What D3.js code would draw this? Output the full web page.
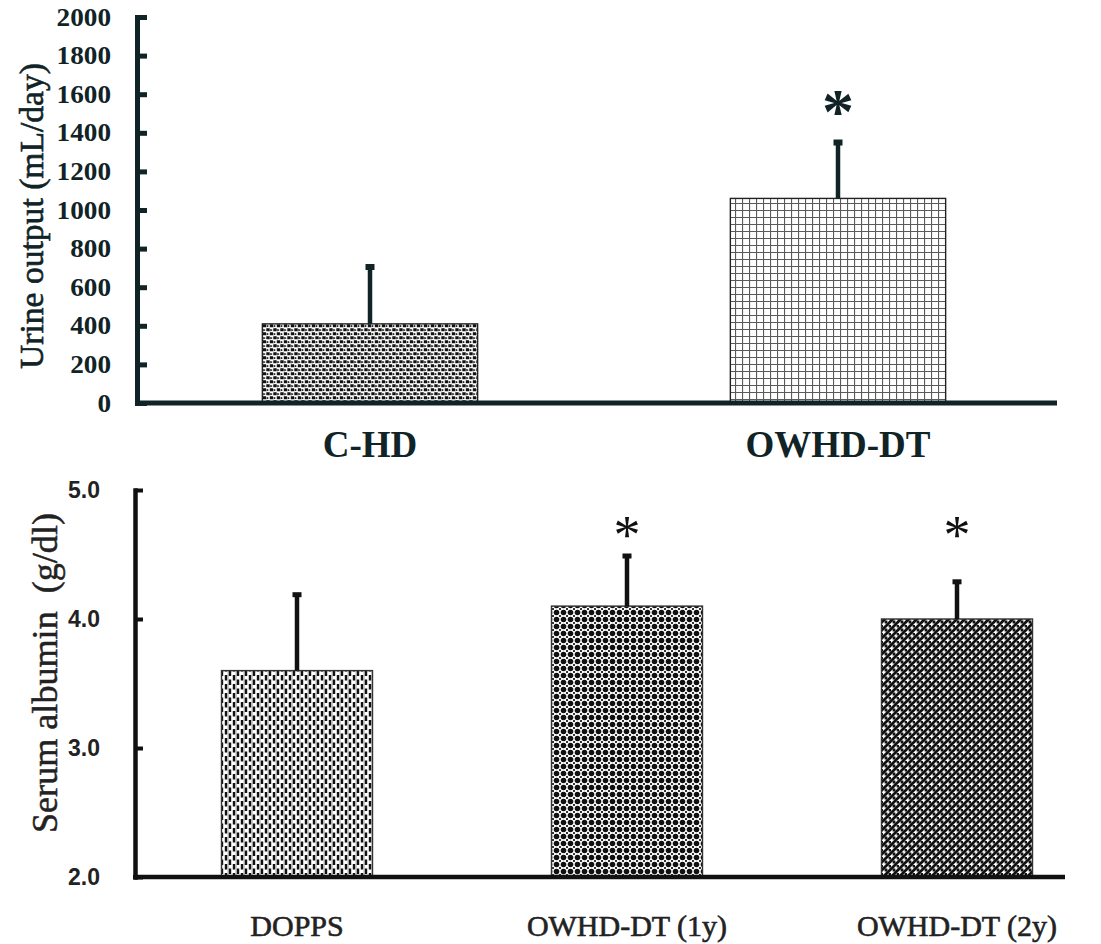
<!DOCTYPE html>
<html>
<head>
<meta charset="utf-8">
<script src="https://cdn.jsdelivr.net/npm/d3@7"></script>
<style>
  html, body { margin: 0; padding: 0; background: #fff; }
  svg { display: block; }
</style>
</head>
<body>
<svg id="chart" width="1101" height="944"></svg>
<script>
// Urine output panel
const urineCategories = ["C-HD", "OWHD-DT"];
const urineMean = [410, 1060];
const urineSD = [305, 300];
const urineSignificant = [false, true];
const urineTicks = [0, 200, 400, 600, 800, 1000, 1200, 1400, 1600, 1800, 2000];

// Serum albumin panel
const albuminCategories = ["DOPPS", "OWHD-DT (1y)", "OWHD-DT (2y)"];
const albuminMean = [3.6, 4.1, 4.0];
const albuminSD = [0.6, 0.4, 0.3];
const albuminSignificant = [false, true, true];
const albuminTicks = [2.0, 3.0, 4.0, 5.0];

const svg = d3.select("#chart");
const defs = svg.append("defs");

// ---- fill textures ----
function pattern(id, w, h, draw) {
  const p = defs.append("pattern")
    .attr("id", id).attr("patternUnits", "userSpaceOnUse")
    .attr("width", w).attr("height", h);
  p.append("rect").attr("width", w).attr("height", h).attr("fill", "#fff");
  draw(p);
}
// speckled zig-zag
pattern("texChd", 7, 8, p => {
  p.append("path").attr("d", "M0.3,0.3h3.4v3h-3.4z M3.8,4.3h3.2v3h-3.2z").attr("fill", "#111");
  p.append("path").attr("d", "M4.3,0.8l2.4,1.3l-2.4,1.3z M0.6,4.8l2.4,1.3l-2.4,1.3z").attr("fill", "#111");
});
// fine grid
pattern("texGrid", 7, 7, p => {
  p.append("path").attr("d", "M0.5,0V7 M0,0.5H7").attr("stroke", "#5a5a5a").attr("stroke-width", 1.2).attr("fill", "none");
});
// vertical dashes
pattern("texDash", 8, 9, p => {
  p.append("rect").attr("x", 3.6).attr("y", 0).attr("width", 1).attr("height", 9).attr("fill", "#aaa");
  p.append("path").attr("d", "M0.8,0h2.4v5.5h-2.4z M4.8,4.5h2.4v4.5h-2.4z M4.8,0h2.4v1h-2.4z").attr("fill", "#111");
});
// dot lattice
pattern("texDots", 7, 7, p => {
  p.append("circle").attr("cx", 3.5).attr("cy", 3.5).attr("r", 2.8).attr("fill", "#111");
  p.append("path").attr("d", "M0,0h1v1h-1z M6,0h1v1h-1z M0,6h1v1h-1z M6,6h1v1h-1z").attr("fill", "#333");
});
// diagonal weave
pattern("texWeave", 8, 8, p => {
  p.append("path").attr("d", "M-1,1L1,-1 M0,8L8,0 M7,9L9,7")
    .attr("stroke", "#111").attr("stroke-width", 2.8).attr("fill", "none");
  p.append("path").attr("d", "M4.6,4.6h2.8v2.8h-2.8z M0.6,1h2.4v2.4h-2.4z").attr("fill", "#111");
});

// ================= top panel =================
const topColor = "#102326";
const yTop = d3.scaleLinear().domain([0, 2000]).range([403, 17]);
const xTop = d3.scaleBand().domain(urineCategories).range([136, 1072])
  .paddingInner(0.54).paddingOuter(0.27);
const topFills = ["url(#texChd)", "url(#texGrid)"];

const gTop = svg.append("g");

gTop.selectAll("rect.bar").data(urineCategories).join("rect")
  .attr("class", "bar")
  .attr("x", d => xTop(d))
  .attr("width", xTop.bandwidth())
  .attr("y", (d, i) => yTop(urineMean[i]))
  .attr("height", (d, i) => yTop(0) - yTop(urineMean[i]))
  .attr("fill", (d, i) => topFills[i])
  .attr("stroke", "#222").attr("stroke-width", 1.4);

// error bars (upper SD)
gTop.selectAll("line.err").data(urineCategories).join("line")
  .attr("x1", d => xTop(d) + xTop.bandwidth() / 2)
  .attr("x2", d => xTop(d) + xTop.bandwidth() / 2)
  .attr("y1", (d, i) => yTop(urineMean[i]))
  .attr("y2", (d, i) => yTop(urineMean[i] + urineSD[i]))
  .attr("stroke", topColor).attr("stroke-width", 4.5);
gTop.selectAll("rect.cap").data(urineCategories).join("rect")
  .attr("x", d => xTop(d) + xTop.bandwidth() / 2 - 4.5)
  .attr("y", (d, i) => yTop(urineMean[i] + urineSD[i]) - 1)
  .attr("width", 9).attr("height", 6)
  .attr("fill", topColor);

gTop.selectAll("text.sig").data(urineCategories.filter((d, i) => urineSignificant[i])).join("text")
  .attr("x", d => xTop(d) + xTop.bandwidth() / 2)
  .attr("y", d => { const i = urineCategories.indexOf(d); return yTop(urineMean[i] + urineSD[i] + 200) + 31; })
  .attr("text-anchor", "middle")
  .attr("font-family", "Liberation Serif").attr("font-weight", "bold").attr("font-size", 64)
  .attr("fill", topColor).text("*");

// axes
gTop.append("line")
  .attr("x1", 135).attr("x2", 1057).attr("y1", yTop(0)).attr("y2", yTop(0))
  .attr("stroke", topColor).attr("stroke-width", 5);

const yAxisTop = gTop.append("g").attr("transform", "translate(137,0)")
  .call(d3.axisLeft(yTop).tickValues(urineTicks).tickFormat(d3.format("d"))
    .tickSizeInner(-10).tickSizeOuter(0).tickPadding(26));
yAxisTop.select(".domain").attr("stroke", topColor).attr("stroke-width", 5).attr("stroke-linecap", "square");
yAxisTop.selectAll(".tick line").attr("stroke", topColor).attr("stroke-width", 5);
yAxisTop.selectAll(".tick text")
  .style("font-family", "'Liberation Serif', serif").style("font-weight", "bold").style("font-size", "25px")
  .attr("textLength", function () { return this.textContent.length * 13.6; })
  .attr("lengthAdjust", "spacingAndGlyphs")
  .attr("fill", topColor);

gTop.append("text")
  .attr("transform", "translate(43,216) rotate(-90)")
  .attr("text-anchor", "middle")
  .style("font-family", "'Liberation Serif', serif").style("font-size", "33px")
  .attr("textLength", 306).attr("lengthAdjust", "spacingAndGlyphs")
  .attr("fill", topColor).attr("stroke", topColor).attr("stroke-width", 0.6)
  .text("Urine output (mL/day)");

gTop.selectAll("text.cat").data(urineCategories).join("text")
  .attr("class", "cat")
  .attr("x", d => xTop(d) + xTop.bandwidth() / 2)
  .attr("y", 457)
  .attr("text-anchor", "middle")
  .style("font-family", "'Liberation Serif', serif").style("font-weight", "bold").style("font-size", "37px")
  .attr("fill", topColor).text(d => d);

// ================= bottom panel =================
const botColor = "#111";
const yBot = d3.scaleLinear().domain([2, 5]).range([877, 490]);
const xBot = d3.scaleBand().domain(albuminCategories).range([132, 1122])
  .paddingInner(0.5424).paddingOuter(0.2712);
const botFills = ["url(#texDash)", "url(#texDots)", "url(#texWeave)"];

const gBot = svg.append("g");

gBot.selectAll("rect.bar").data(albuminCategories).join("rect")
  .attr("class", "bar")
  .attr("x", d => xBot(d))
  .attr("width", xBot.bandwidth())
  .attr("y", (d, i) => yBot(albuminMean[i]))
  .attr("height", (d, i) => yBot(2) - yBot(albuminMean[i]))
  .attr("fill", (d, i) => botFills[i])
  .attr("stroke", "#333").attr("stroke-width", 1.4);

gBot.selectAll("line.err").data(albuminCategories).join("line")
  .attr("x1", d => xBot(d) + xBot.bandwidth() / 2)
  .attr("x2", d => xBot(d) + xBot.bandwidth() / 2)
  .attr("y1", (d, i) => yBot(albuminMean[i]))
  .attr("y2", (d, i) => yBot(albuminMean[i] + albuminSD[i]))
  .attr("stroke", botColor).attr("stroke-width", 4.5);
gBot.selectAll("rect.cap").data(albuminCategories).join("rect")
  .attr("x", d => xBot(d) + xBot.bandwidth() / 2 - 4.5)
  .attr("y", (d, i) => yBot(albuminMean[i] + albuminSD[i]) - 1)
  .attr("width", 9).attr("height", 5)
  .attr("fill", botColor);

gBot.selectAll("text.sig").data(albuminCategories.filter((d, i) => albuminSignificant[i])).join("text")
  .attr("x", d => xBot(d) + xBot.bandwidth() / 2)
  .attr("y", yBot(4.72) + 27)
  .attr("text-anchor", "middle")
  .style("font-family", "'Liberation Serif', serif").style("font-size", "54px")
  .attr("fill", botColor).text("*");

gBot.append("line")
  .attr("x1", 133).attr("x2", 1065).attr("y1", yBot(2)).attr("y2", yBot(2))
  .attr("stroke", botColor).attr("stroke-width", 4.5);

const yAxisBot = gBot.append("g").attr("transform", "translate(135,0)")
  .call(d3.axisLeft(yBot).tickValues(albuminTicks).tickFormat(d3.format(".1f"))
    .tickSizeInner(-8).tickSizeOuter(0).tickPadding(35));
yAxisBot.select(".domain").attr("stroke", botColor).attr("stroke-width", 4.5).attr("stroke-linecap", "square");
yAxisBot.selectAll(".tick line").attr("stroke", botColor).attr("stroke-width", 4);
yAxisBot.selectAll(".tick text")
  .style("font-family", "'Liberation Sans', sans-serif").style("font-weight", "bold").style("font-size", "23px")
  .attr("fill", "#222");

gBot.append("text")
  .attr("transform", "translate(57,673) rotate(-90)")
  .attr("text-anchor", "middle")
  .style("font-family", "'Liberation Serif', serif").style("font-size", "36px")
  .attr("textLength", 320).attr("lengthAdjust", "spacingAndGlyphs")
  .attr("fill", "#222").attr("stroke", "#222").attr("stroke-width", 0.5)
  .text("Serum albumin\u2002(g/dl)");

gBot.selectAll("text.cat").data(albuminCategories).join("text")
  .attr("class", "cat")
  .attr("x", d => xBot(d) + xBot.bandwidth() / 2)
  .attr("y", 936)
  .attr("text-anchor", "middle")
  .style("font-family", "'Liberation Serif', serif").style("font-size", "30px")
  .attr("fill", "#222").attr("stroke", "#222").attr("stroke-width", 0.6)
  .text(d => d);
</script>
</body>
</html>
